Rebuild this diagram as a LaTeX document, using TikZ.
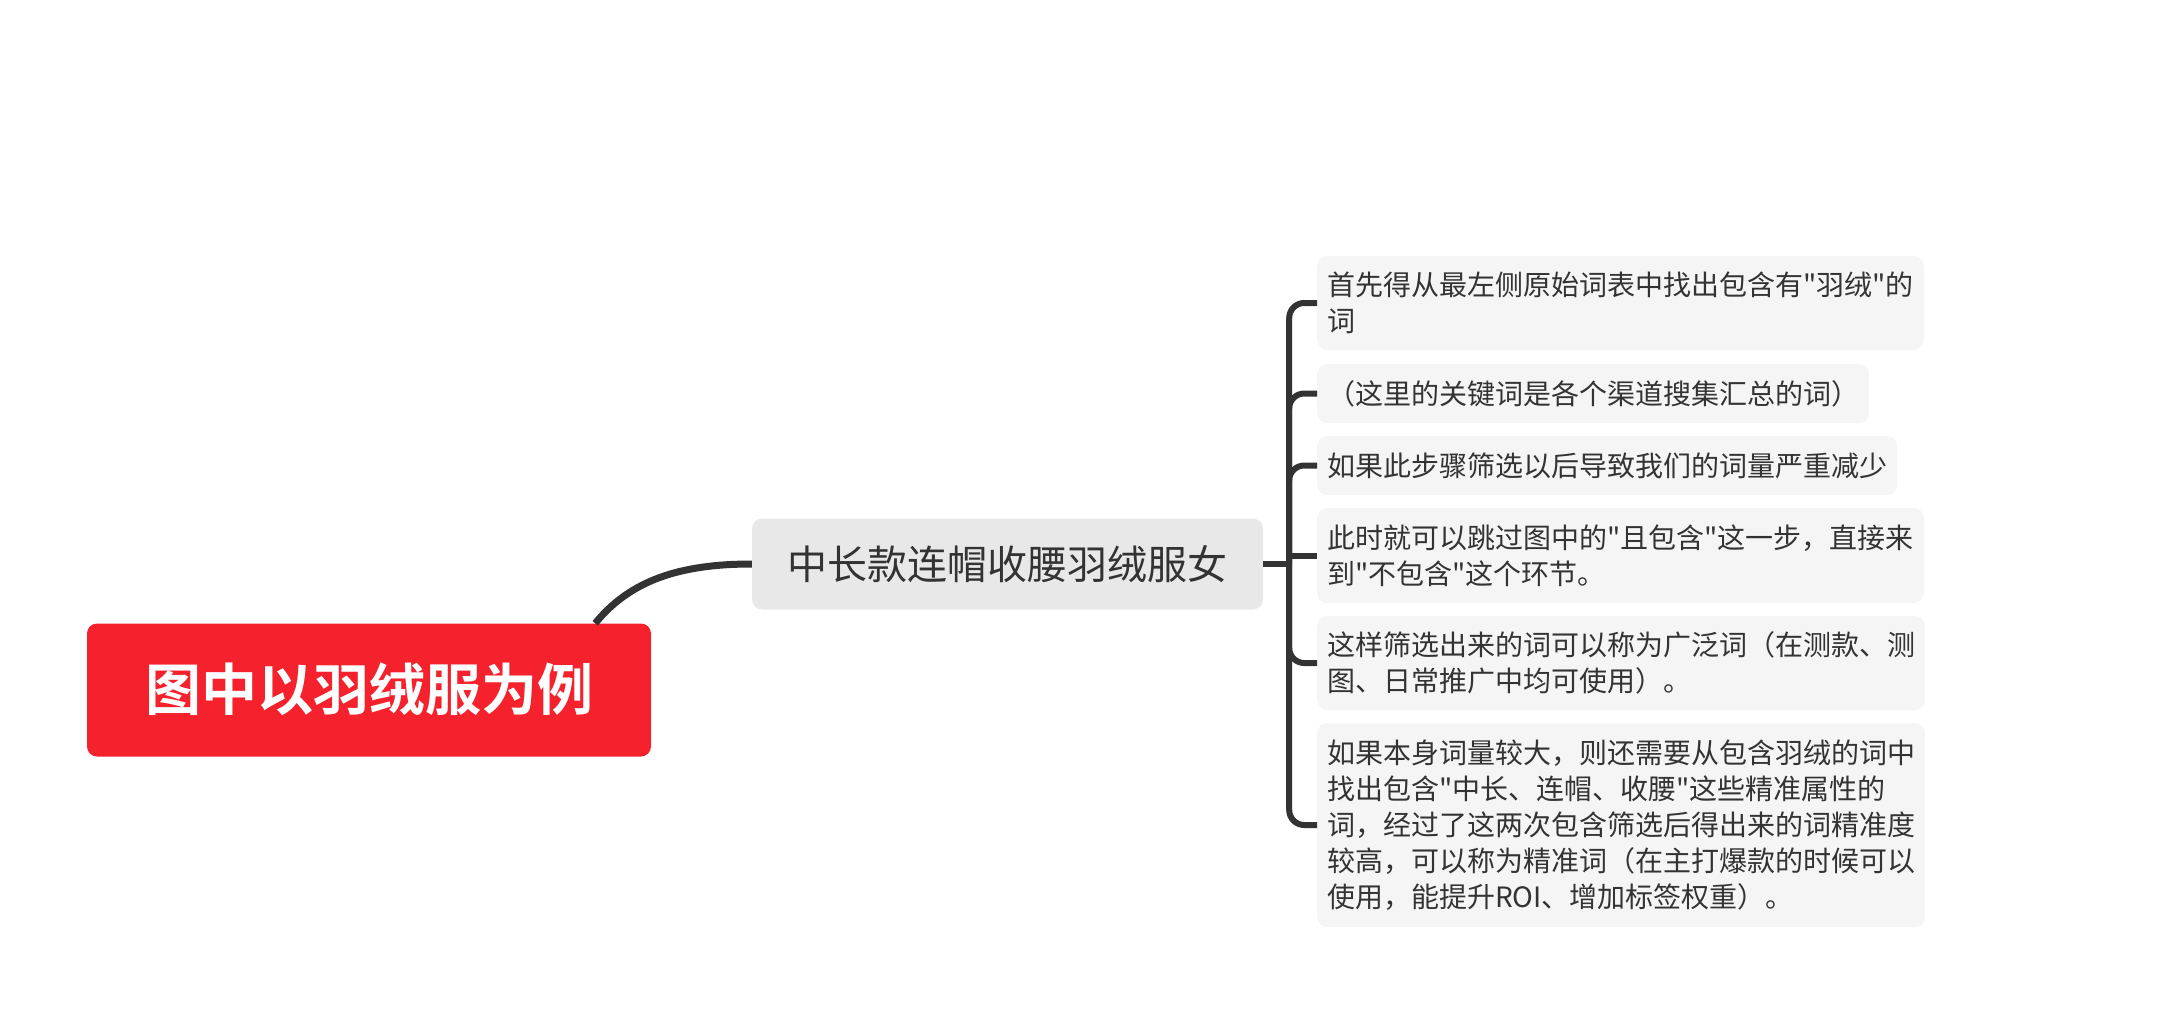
\documentclass[tikz,border=0pt]{standalone}
\usepackage{fontspec}
\setmainfont{Noto Sans CJK SC}[Ligatures=TeXOff]
\newfontfamily\boldcjk{Noto Sans CJK SC Bold}
\usepackage{tikz}
\usetikzlibrary{calc}
\definecolor{rootred}{RGB}{245,34,45}
\definecolor{subgray}{RGB}{232,232,232}
\definecolor{leafgray}{RGB}{245,245,245}
\definecolor{linegray}{RGB}{51,51,51}

\begin{document}
\begin{tikzpicture}[x=1pt,y=-1pt]
    \tikzset{root/.style = {shape=rectangle,fill=rootred,rounded corners=10pt,minimum width=564pt,minimum height=133pt,text=white,font=\boldcjk\fontsize{56}{60}\selectfont}}
    \tikzset{topic/.style = {shape=rectangle,fill=subgray,rounded corners=10pt,minimum width=511pt,minimum height=91pt,text=linegray,font=\fontsize{40}{44}\selectfont}}
    \tikzset{leaf/.style = {shape=rectangle,fill=leafgray,rounded corners=10pt,anchor=west,align=left,inner xsep=10pt,text=linegray,font=\fontsize{28}{36}\selectfont}}
    \tikzset{link/.style = {draw=linegray,line width=7pt}}
    \tikzset{branch/.style = {draw=linegray,line width=6pt,rounded corners=15pt}}
    \useasboundingbox (0,0) rectangle (2165,1015);
    % vertices
    \node[root] (root) at (369,690) {图中以羽绒服为例};
    \node[topic] (sub) at (1007.5,564) {中长款连帽收腰羽绒服女};
    \node[leaf,minimum height=94pt] (c1) at (1317,303) {首先得从最左侧原始词表中找出包含有"羽绒"的\\词};
    \node[leaf,minimum height=59pt] (c2) at (1317,393.5) {（这里的关键词是各个渠道搜集汇总的词）};
    \node[leaf,minimum height=59pt] (c3) at (1317,465.5) {如果此步骤筛选以后导致我们的词量严重减少};
    \node[leaf,minimum height=95pt] (c4) at (1317,555.5) {此时就可以跳过图中的"且包含"这一步，直接来\\到"不包含"这个环节。};
    \node[leaf,minimum height=94pt] (c5) at (1317,663) {这样筛选出来的词可以称为广泛词（在测款、测\\图、日常推广中均可使用）。};
    \node[leaf,minimum height=204pt] (c6) at (1317,825) {如果本身词量较大，则还需要从包含羽绒的词中\\找出包含"中长、连帽、收腰"这些精准属性的\\词，经过了这两次包含筛选后得出来的词精准度\\较高，可以称为精准词（在主打爆款的时候可以\\使用，能提升ROI、增加标签权重）。};
    %edges
    \draw[link] ($(root.north east)+(-56,0)$) .. controls +(35,-43) and +(-72,0) .. (sub.west);
    \coordinate (hub) at ($(sub.east)+(26,0)$);
    \draw[branch] (sub.east) -- (hub);
    \foreach \c in {c1,c2,c3,c5,c6}
        \draw[branch] (hub) |- (\c.west);
    \draw[branch,sharp corners] (hub) |- (c4.west);
\end{tikzpicture}
\end{document}
